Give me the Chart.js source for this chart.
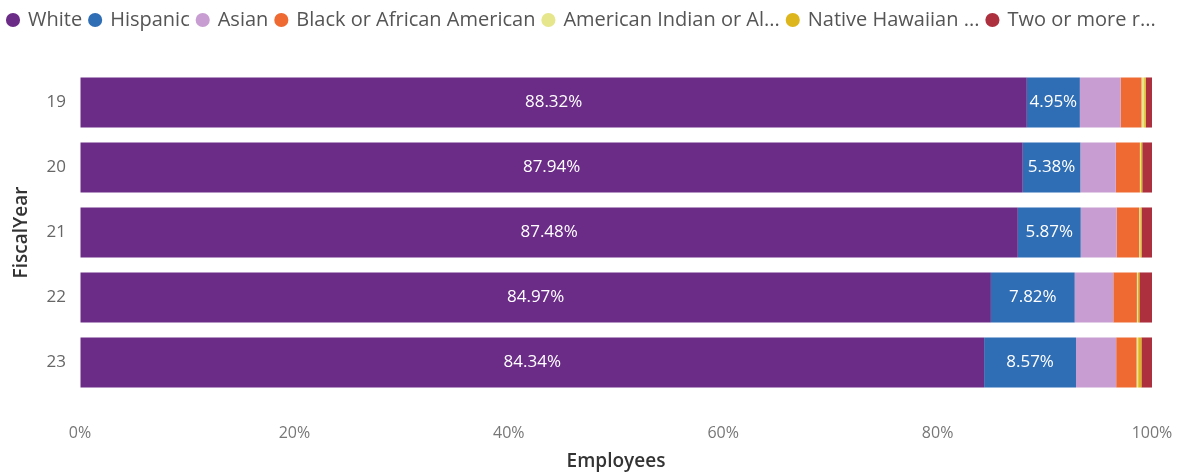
<!DOCTYPE html>
<html>
<head>
<meta charset="utf-8">
<title>Employees by ethnicity</title>
<script src="https://cdn.jsdelivr.net/npm/chart.js@4/dist/chart.umd.min.js"></script>
<style>
  html, body { margin: 0; padding: 0; background: #fff; }
  #wrap { position: relative; width: 1185px; height: 475px; }
</style>
</head>
<body>
<div id="wrap"><canvas id="ethnicityChart"></canvas></div>
<script>
// share of employees per fiscal year, in percent
var years = ['19', '20', '21', '22', '23'];
var white = [88.32, 87.94, 87.48, 84.97, 84.34];
var hispanic = [4.95, 5.38, 5.87, 7.82, 8.57];
var asian = [3.80, 3.30, 3.35, 3.60, 3.75];
var black = [1.95, 2.25, 2.10, 2.20, 1.90];
var amIndian = [0.25, 0.10, 0.10, 0.10, 0.15];
var nativeHawaiian = [0.15, 0.12, 0.12, 0.13, 0.30];
var twoOrMore = [0.58, 0.91, 0.98, 1.18, 0.99];
var xTicks = [0, 20, 40, 60, 80, 100];

var FONT = "'Open Sans', 'Noto Sans', sans-serif";

function series(label, data, color, showLabel) {
  return {
    label: label,
    data: data,
    backgroundColor: color,
    borderWidth: 0,
    showLabel: showLabel
  };
}

// white value labels centred inside the bigger segments
var segmentLabels = {
  id: 'segmentLabels',
  afterDatasetsDraw: function (chart) {
    var ctx = chart.ctx;
    ctx.save();
    ctx.font = '17px ' + FONT;
    ctx.fillStyle = '#ffffff';
    ctx.textAlign = 'center';
    ctx.textBaseline = 'middle';
    chart.data.datasets.forEach(function (ds, i) {
      if (!ds.showLabel) return;
      chart.getDatasetMeta(i).data.forEach(function (bar, j) {
        var p = bar.getProps(['x', 'y', 'base'], true);
        ctx.fillText(ds.data[j].toFixed(2) + '%', (p.x + p.base) / 2, p.y);
      });
    });
    ctx.restore();
  }
};

// extra room between the legend and the bars
var legendGap = {
  id: 'legendGap',
  beforeInit: function (chart) {
    var legend = chart.legend;
    var fit = legend.fit;
    legend.fit = function () {
      fit.call(this);
      this.height += 30;
    };
  }
};

new Chart(document.getElementById('ethnicityChart'), {
  type: 'bar',
  data: {
    labels: years,
    datasets: [
      series('White', white, '#6b2c87', true),
      series('Hispanic', hispanic, '#2f6db5', true),
      series('Asian', asian, '#c79dd2', false),
      series('Black or African American', black, '#ee6a32', false),
      series('American Indian or Al...', amIndian, '#e6e68c', false),
      series('Native Hawaiian ...', nativeHawaiian, '#dcb61c', false),
      series('Two or more r...', twoOrMore, '#ad303f', false)
    ]
  },
  options: {
    indexAxis: 'y',
    responsive: true,
    maintainAspectRatio: false,
    animation: false,
    layout: { padding: { top: 2, right: 0, left: 0, bottom: 0 } },
    datasets: {
      bar: { categoryPercentage: 1, barPercentage: 0.77 }
    },
    plugins: {
      tooltip: { enabled: false },
      legend: {
        position: 'top',
        align: 'start',
        labels: {
          usePointStyle: true,
          pointStyle: 'circle',
          boxWidth: 10,
          boxHeight: 10,
          padding: 8,
          color: '#555555',
          font: { family: FONT, size: 20 }
        }
      }
    },
    scales: {
      x: {
        stacked: true,
        min: 0,
        max: 100,
        afterFit: function (scale) {
          scale.height = 80;
          scale.paddingRight = 33;
        },
        afterBuildTicks: function (scale) {
          scale.ticks = xTicks.map(function (v) { return { value: v }; });
        },
        // invisible tick marks push the labels down without widening the side padding
        grid: { drawOnChartArea: false, drawTicks: true, tickLength: 27, tickColor: 'rgba(0,0,0,0)' },
        border: { display: false },
        ticks: {
          padding: 2,
          color: '#777777',
          font: { family: FONT, size: 16 },
          callback: function (v) { return v + '%'; }
        },
        title: {
          display: true,
          text: 'Employees',
          color: '#333333',
          padding: { top: 2, bottom: 2 },
          font: { family: FONT, size: 19, weight: '600' }
        }
      },
      y: {
        stacked: true,
        afterFit: function (scale) { scale.width = 80; },
        grid: { display: false, drawTicks: false },
        border: { display: false },
        ticks: {
          padding: 14,
          color: '#666666',
          font: { family: FONT, size: 17 }
        },
        title: {
          display: true,
          text: 'FiscalYear',
          color: '#333333',
          padding: { top: 10, bottom: 0 },
          font: { family: FONT, size: 19, weight: '600' }
        }
      }
    }
  },
  plugins: [segmentLabels, legendGap]
});
</script>
</body>
</html>
